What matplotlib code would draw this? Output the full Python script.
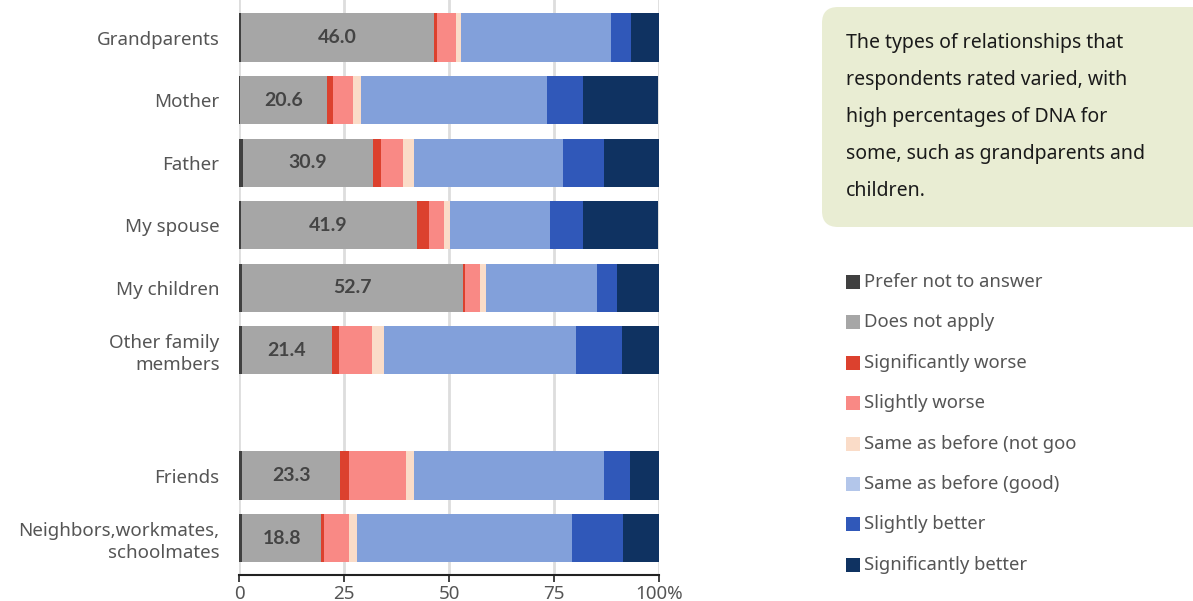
import numpy as np
import matplotlib.pyplot as plt
from matplotlib.patches import FancyBboxPatch, Rectangle

plt.rcParams['font.family'] = ['Noto Sans', 'DejaVu Sans']

# relationship categories, top to bottom (gap between family and others)
groups = ['Grandparents', 'Mother', 'Father', 'My spouse', 'My children',
          'Other family\nmembers', 'Friends', 'Neighbors,workmates,\nschoolmates']
ypos = [0, 1, 2, 3, 4, 5, 7, 8]

responses = ['Prefer not to answer', 'Does not apply', 'Significantly worse',
             'Slightly worse', 'Same as before (not good)', 'Same as before (good)',
             'Slightly better', 'Significantly better']

# percentage of respondents per answer, one list per answer (same order as groups)
prefer_not = [0.4, 0.3, 0.9, 0.4, 0.7, 0.7, 0.8, 0.8]
does_not_apply = [46.0, 20.6, 30.9, 41.9, 52.7, 21.4, 23.3, 18.8]
sig_worse = [0.7, 1.5, 1.9, 3.0, 0.5, 1.6, 2.2, 0.6]
sl_worse = [4.6, 4.8, 5.3, 3.5, 3.5, 8.0, 13.4, 6.0]
same_not_good = [1.2, 1.9, 2.6, 1.4, 1.5, 2.8, 1.9, 2.0]
same_good = [35.6, 44.2, 35.6, 23.9, 26.4, 45.7, 45.2, 51.1]
sl_better = [4.8, 8.5, 9.8, 7.8, 4.8, 10.9, 6.4, 12.1]
sig_better = [6.7, 17.9, 13.1, 17.9, 9.8, 8.9, 6.7, 8.6]

series = [prefer_not, does_not_apply, sig_worse, sl_worse,
          same_not_good, same_good, sl_better, sig_better]
bar_colors = ['#404040', '#a6a6a6', '#dc412e', '#f98985',
              '#fadcc8', '#82a0da', '#3058b9', '#0f3261']
legend_colors = ['#404040', '#a6a6a6', '#dc412e', '#f98985',
                 '#fadcc8', '#b3c6ea', '#3058b9', '#0f3261']

fig = plt.figure(figsize=(11.93, 6.01), dpi=100)
ax = fig.add_axes([239/1193, 26/601, 420/1193, 575/601])

left = np.zeros(len(groups))
for vals, col in zip(series, bar_colors):
    ax.barh(ypos, vals, left=left, height=0.77, color=col, zorder=2)
    left += np.array(vals)

# value labels for "Does not apply"
for y, p, d in zip(ypos, prefer_not, does_not_apply):
    ax.text(p + d / 2, y, f'{d:.1f}', ha='center', va='center', family='Lato',
            fontsize=14, fontweight='bold', color='#444444', zorder=3)

ax.set_xlim(0, 100)
ax.set_ylim(8.59, -0.6)
ax.set_yticks(ypos)
ax.set_yticklabels(groups, fontsize=13.5, color='#555555', linespacing=1.25)
ax.set_xticks([0, 25, 50, 75, 100])
ax.set_xticklabels(['0', '25', '50', '75', '100%'], fontsize=13.5, color='#555555')
ax.tick_params(axis='y', length=0, pad=14)
ax.tick_params(axis='x', length=5, width=1.2, color='#222222', pad=2)
ax.grid(axis='x', color='#dddddd', linewidth=2, zorder=0)
for s in ['top', 'right', 'left']:
    ax.spines[s].set_visible(False)
ax.spines['bottom'].set_color('#222222')
ax.spines['bottom'].set_linewidth(1.5)

# note box
box = FancyBboxPatch((822, 601 - 227), 400, 220, boxstyle='round,pad=0,rounding_size=16',
                     transform=None, facecolor='#e9edd3', edgecolor='none')
fig.patches.append(box)
note = ['The types of relationships that', 'respondents rated varied, with',
        'high percentages of DNA for', 'some, such as grandparents and', 'children.']
for i, line in enumerate(note):
    fig.text(846/1193, 1 - (43 + i * 37) / 601, line, fontsize=14,
             color='#1a1a1a', va='center', ha='left')

# legend (text clipped at right like the original)
lax = fig.add_axes([840/1193, 0, (1076 - 840)/1193, 1])
lax.set_xlim(840, 1076)
lax.set_ylim(601, 0)
lax.axis('off')
for i, (name, col) in enumerate(zip(responses, legend_colors)):
    yc = 282 + i * 40.4
    lax.add_patch(Rectangle((846, yc - 7), 14, 14, facecolor=col, edgecolor='none'))
    t = lax.text(864, yc, name, fontsize=13.3, color='#555555', va='center', ha='left')
    t.set_clip_on(True)
    t.set_clip_box(lax.bbox)

fig.savefig('out.png', dpi=100)
